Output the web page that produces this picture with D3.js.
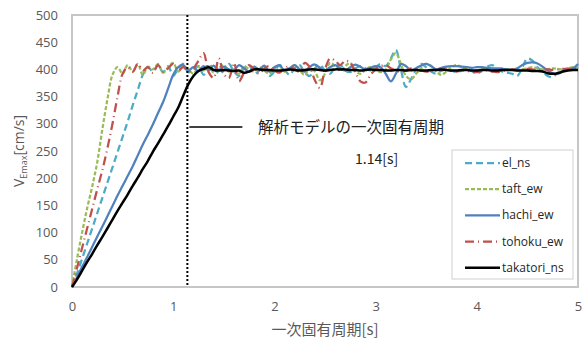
<!DOCTYPE html>
<html>
<head>
<meta charset="utf-8">
<script src="https://cdn.jsdelivr.net/npm/d3@7"></script>
<style>
  body { margin: 0; background: #fff; }
  svg text { font-family: "Open Sans", "Noto Sans CJK JP", sans-serif; }
  .jp { font-family: "Noto Sans CJK JP", sans-serif; }
</style>
</head>
<body>
<div id="chart"></div>
<script>
// period grid [s]
var periods = [0,0.05,0.1,0.15,0.2,0.25,0.3,0.35,0.4,0.45,0.5,0.55,0.6,0.65,0.7,0.75,0.8,0.85,0.9,0.95,
  1,1.05,1.1,1.15,1.2,1.25,1.3,1.35,1.4,1.45,1.5,1.55,1.6,1.65,1.7,1.75,1.8,1.85,1.9,1.95,
  2,2.05,2.1,2.15,2.2,2.25,2.3,2.35,2.4,2.45,2.5,2.55,2.6,2.65,2.7,2.75,2.8,2.85,2.9,2.95,
  3,3.05,3.1,3.15,3.2,3.25,3.3,3.35,3.4,3.45,3.5,3.55,3.6,3.65,3.7,3.75,3.8,3.85,3.9,3.95,
  4,4.05,4.1,4.15,4.2,4.25,4.3,4.35,4.4,4.45,4.5,4.55,4.6,4.65,4.7,4.75,4.8,4.85,4.9,4.95,5];

var elNs = [0,25,52,80,108,136,164,192,220,248,276,304,334,362,390,404,396,408,395,406,
  388,402,410,395,400,406,390,402,408,392,398,410,396,388,402,408,392,398,406,388,
  396,408,400,390,402,408,394,388,402,408,398,392,404,408,398,395,402,406,402,398,
  404,410,406,420,436,400,368,382,400,410,404,396,392,398,402,398,395,398,403,397,
  392,398,405,408,402,396,394,392,388,404,420,416,404,396,388,386,394,400,402,402,404];

var taftEw = [0,52,100,145,185,230,290,345,390,404,392,408,396,410,390,405,400,410,394,404,
  412,396,406,400,392,404,398,406,394,402,408,396,400,392,406,400,396,404,398,392,
  402,406,396,400,408,398,390,404,396,380,392,412,406,398,406,412,398,392,400,404,
  400,395,400,418,430,410,388,382,392,402,410,406,396,390,396,404,408,404,400,398,
  398,400,401,400,401,402,400,399,398,400,402,404,402,400,400,402,401,400,402,404,403];

var hachiEw = [0,18,37,55,74,93,111,130,149,168,186,204,222,242,262,280,299,320,340,365,
  390,404,408,398,404,397,406,398,407,399,405,400,398,408,402,396,405,400,407,396,
  404,408,398,402,408,400,396,405,409,403,398,404,408,402,398,404,409,405,400,403,
  406,404,392,378,392,410,406,398,402,407,410,406,400,403,405,406,406,405,404,403,
  404,404,403,402,402,401,400,399,402,408,412,413,411,405,398,393,392,396,400,402,410];

var tohokuEw = [0,35,72,108,144,180,215,255,300,350,392,404,396,410,398,404,394,408,396,402,
  410,398,404,396,402,416,430,395,384,420,392,384,412,378,394,408,400,392,402,406,
  398,394,402,406,400,396,412,404,380,366,400,420,416,408,416,412,395,378,376,390,
  400,406,408,402,398,396,398,402,400,398,396,398,400,398,400,397,396,398,397,396,
  395,397,398,396,395,397,398,400,399,400,401,400,398,399,400,399,400,401,400,402,401];

var takatoriNs = [0,14,30,46,61,77,92,108,124,140,155,170,186,201,217,232,249,264,280,296,
  313,330,352,373,388,397,401,404,399,398,399,398,397,398,394,396,400,400,399,399,
  398,398,399,400,399,398,399,400,400,399,398,399,400,400,400,399,399,398,399,400,
  399,399,398,398,399,399,398,399,399,398,398,399,399,400,399,398,398,399,399,398,
  398,399,399,398,398,399,399,399,398,398,398,397,397,396,393,392,393,396,398,399,399];

var seriesNames = ["el_ns", "taft_ew", "hachi_ew", "tohoku_ew", "takatori_ns"];
var seriesValues = [elNs, taftEw, hachiEw, tohokuEw, takatoriNs];
var seriesColors = ["#4bacc6", "#9bbb59", "#4f81bd", "#c0504d", "#000000"];
var seriesDash = ["7,4", "4,2", null, "9,4,1,4", null];
var seriesWidth = [2.25, 2.25, 2.25, 2.25, 2.5];

var xTicks = [0, 1, 2, 3, 4, 5];
var yTicks = [0, 50, 100, 150, 200, 250, 300, 350, 400, 450, 500];
var modelPeriod = 1.14;

var W = 585, H = 345;
var pL = 72, pR = 578, pT = 15, pB = 287;

var svg = d3.select("#chart").append("svg")
  .attr("width", W).attr("height", H);

var x = d3.scaleLinear().domain([0, 5]).range([pL, pR]);
var y = d3.scaleLinear().domain([0, 500]).range([pB, pT]);

// plot frame
svg.append("rect")
  .attr("x", pL).attr("y", pT)
  .attr("width", pR - pL).attr("height", pB - pT)
  .attr("fill", "none").attr("stroke", "#c6c6c6").attr("stroke-width", 2);

// axes (labels only)
var yAxis = svg.append("g")
  .attr("transform", "translate(" + pL + ",0)")
  .call(d3.axisLeft(y).tickValues(yTicks).tickSize(0).tickPadding(14));
yAxis.select(".domain").remove();
yAxis.selectAll("text").attr("font-size", 13).attr("fill", "#595959")
  .style("font-family", "'Open Sans', sans-serif");

var xAxis = svg.append("g")
  .attr("transform", "translate(0," + pB + ")")
  .call(d3.axisBottom(x).tickValues(xTicks).tickFormat(d3.format("d")).tickSize(0).tickPadding(15));
xAxis.select(".domain").remove();
xAxis.selectAll("text").attr("font-size", 13).attr("fill", "#595959")
  .style("font-family", "'Open Sans', sans-serif");

// lines
var line = d3.line()
  .x(function(d, i){ return x(periods[i]); })
  .y(function(d){ return y(d); })
  .curve(d3.curveCatmullRom.alpha(0.5));

var plot = svg.append("g");
seriesValues.forEach(function(vals, k){
  plot.append("path")
    .datum(vals)
    .attr("d", line)
    .attr("fill", "none")
    .attr("stroke", seriesColors[k])
    .attr("stroke-width", seriesWidth[k])
    .attr("stroke-dasharray", seriesDash[k])
    .attr("stroke-linejoin", "round");
});

// model period marker
svg.append("line")
  .attr("x1", x(modelPeriod)).attr("x2", x(modelPeriod))
  .attr("y1", pT).attr("y2", pB)
  .attr("stroke", "#000").attr("stroke-width", 2).attr("stroke-dasharray", "2,2");

svg.append("line")
  .attr("x1", x(modelPeriod) + 2).attr("x2", x(modelPeriod) + 55)
  .attr("y1", 127).attr("y2", 127)
  .attr("stroke", "#000").attr("stroke-width", 1.5);

svg.append("text").attr("class", "jp")
  .attr("x", 258).attr("y", 133)
  .attr("font-size", 15.5).attr("fill", "#222")
  .text("解析モデルの一次固有周期");

svg.append("text").attr("class", "jp")
  .attr("x", 355).attr("y", 164)
  .attr("font-size", 14).attr("fill", "#222")
  .text("1.14[s]");

// axis titles
var yt = svg.append("text")
  .attr("transform", "translate(24," + ((pT + pB) / 2) + ") rotate(-90)")
  .attr("text-anchor", "middle")
  .attr("font-size", 14).attr("fill", "#595959");
yt.append("tspan").text("V");
yt.append("tspan").attr("font-size", 9).attr("dy", 3).text("Emax");
yt.append("tspan").attr("dy", -3).text("[cm/s]");

svg.append("text").attr("class", "jp")
  .attr("x", (pL + pR) / 2).attr("y", 335)
  .attr("text-anchor", "middle")
  .attr("font-size", 15).attr("fill", "#595959")
  .text("一次固有周期[s]");

// legend
var lg = svg.append("g");
lg.append("rect")
  .attr("x", 452).attr("y", 150).attr("width", 121).attr("height", 129)
  .attr("fill", "#fff").attr("stroke", "#d0d0d0").attr("stroke-width", 1);

seriesNames.forEach(function(name, k){
  var yy = 163 + k * 26.2;
  lg.append("line")
    .attr("x1", 465).attr("x2", 500)
    .attr("y1", yy).attr("y2", yy)
    .attr("stroke", seriesColors[k])
    .attr("stroke-width", seriesWidth[k])
    .attr("stroke-dasharray", seriesDash[k]);
  lg.append("text")
    .attr("x", 502).attr("y", yy + 4)
    .attr("font-size", 12).attr("fill", "#262626")
    .text(name);
});
</script>
</body>
</html>
